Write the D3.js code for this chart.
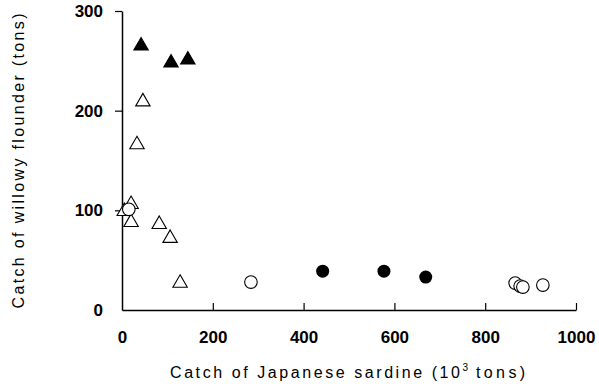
<!DOCTYPE html>
<html>
<head>
<meta charset="utf-8">
<script src="https://cdn.jsdelivr.net/npm/d3@7"></script>
<style>
  body { margin: 0; background: #fff; }
  text { font-family: "Liberation Sans", Arial, sans-serif; }
</style>
</head>
<body>
<script>
// Data: [sardine catch (10^3 tons), flounder catch (tons)]
var filledTriangles = [[42, 265], [108, 248], [145, 251]];
var openTriangles = [[46, 209], [33, 166], [20, 106], [5, 99], [20, 88], [82, 86], [106, 72], [128, 27]];
var filledCircles = [[442, 39], [577, 39], [669, 33]];
var openCircles = [[15, 101], [284, 28], [866, 27], [877, 24], [883, 23], [927, 25]];
var xTicks = [0, 200, 400, 600, 800, 1000];
var yTicks = [0, 100, 200, 300];

var width = 599, height = 384;
var margin = {top: 11, right: 23, bottom: 74, left: 122};

var svg = d3.select("body").append("svg")
    .attr("width", width)
    .attr("height", height);

var x = d3.scaleLinear().domain([0, 1000]).range([margin.left, width - margin.right]);
var y = d3.scaleLinear().domain([0, 300]).range([height - margin.bottom, margin.top]);

// x axis, ticks point inward
var xAxis = svg.append("g")
    .attr("transform", "translate(0," + y(0) + ")")
    .call(d3.axisBottom(x).tickValues(xTicks).tickFormat(d3.format("d"))
      .tickSize(-7).tickPadding(21).tickSizeOuter(0));

// y axis, ticks point outward
var yAxis = svg.append("g")
    .attr("transform", "translate(" + x(0) + ",0)")
    .call(d3.axisLeft(y).tickValues(yTicks).tickFormat(d3.format("d"))
      .tickSize(7).tickPadding(12).tickSizeOuter(0));

[xAxis, yAxis].forEach(function(g) {
  g.select(".domain").attr("stroke", "#000").attr("stroke-width", 1.5);
  g.selectAll(".tick line").attr("stroke", "#000").attr("stroke-width", 1.2);
  g.selectAll(".tick text")
    .attr("font-size", 17)
    .attr("font-weight", "bold")
    .attr("fill", "#000")
    .style("font-family", "'Liberation Sans', Arial, sans-serif");
});
yAxis.selectAll(".tick").filter(function(d) { return d === 0; }).select("line").remove();
xAxis.selectAll(".tick").filter(function(d) { return d === 0; }).select("line").remove();

// markers
var tri = d3.symbol().type(d3.symbolTriangle).size(90);

svg.append("g").selectAll("path")
    .data(openTriangles).enter().append("path")
    .attr("d", tri)
    .attr("transform", function(d) { return "translate(" + x(d[0]) + "," + y(d[1]) + ")"; })
    .attr("fill", "#fff").attr("stroke", "#000").attr("stroke-width", 1.1);

svg.append("g").selectAll("path")
    .data(filledTriangles).enter().append("path")
    .attr("d", tri)
    .attr("transform", function(d) { return "translate(" + x(d[0]) + "," + y(d[1]) + ")"; })
    .attr("fill", "#000").attr("stroke", "#000").attr("stroke-width", 1.1);

svg.append("g").selectAll("circle")
    .data(openCircles).enter().append("circle")
    .attr("cx", function(d) { return x(d[0]); })
    .attr("cy", function(d) { return y(d[1]); })
    .attr("r", 6.3)
    .attr("fill", "#fff").attr("stroke", "#000").attr("stroke-width", 1.1);

svg.append("g").selectAll("circle")
    .data(filledCircles).enter().append("circle")
    .attr("cx", function(d) { return x(d[0]); })
    .attr("cy", function(d) { return y(d[1]); })
    .attr("r", 6.5)
    .attr("fill", "#000");

// axis titles
var xt = svg.append("text")
    .attr("x", 170).attr("y", 378)
    .attr("font-size", 16);
xt.append("tspan").attr("textLength", 290).attr("lengthAdjust", "spacing")
    .text("Catch of Japanese sardine (10");
xt.append("tspan").attr("font-size", 10).attr("dy", -7).text("3");
xt.append("tspan").attr("dy", 7).attr("textLength", 57).attr("lengthAdjust", "spacing")
    .text(" tons)");

svg.append("text")
    .attr("transform", "translate(24,161) rotate(-90)")
    .attr("text-anchor", "middle")
    .attr("font-size", 16)
    .attr("textLength", 295)
    .attr("lengthAdjust", "spacing")
    .text("Catch of willowy flounder (tons)");
</script>
</body>
</html>
